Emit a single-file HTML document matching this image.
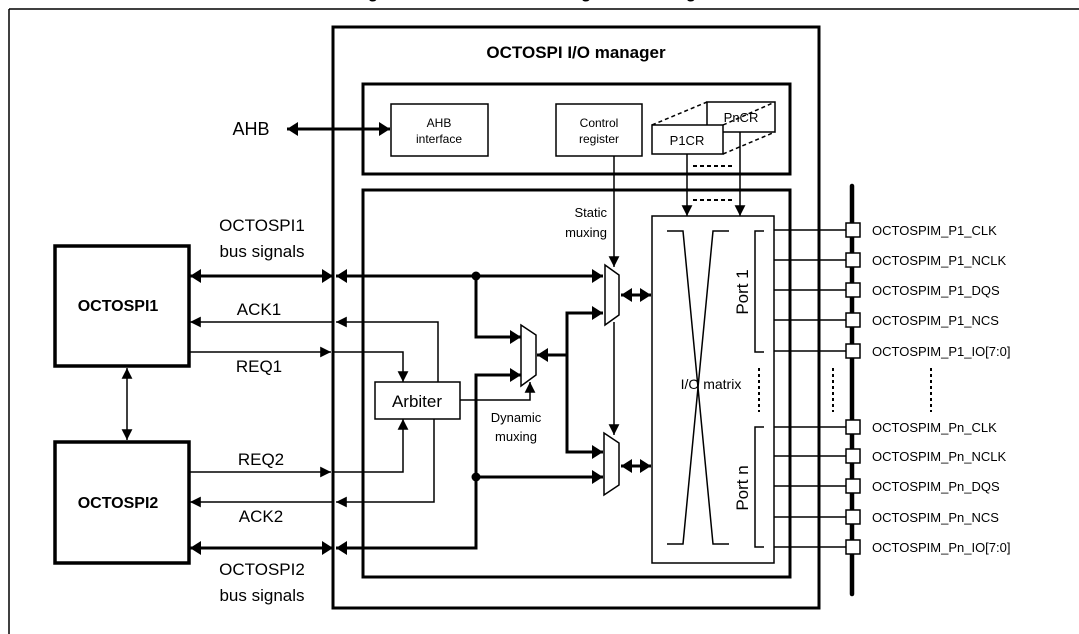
<!DOCTYPE html>
<html><head><meta charset="utf-8"><style>
html,body{margin:0;padding:0;background:#fff;}
svg{display:block;font-family:"Liberation Sans",Arial,sans-serif;}
</style></head><body>
<svg width="1079" height="634" viewBox="0 0 1079 634" xmlns="http://www.w3.org/2000/svg">
<defs>
<marker id="at" markerUnits="userSpaceOnUse" markerWidth="12" markerHeight="12" refX="9" refY="5" orient="auto-start-reverse" viewBox="0 0 10 10"><path d="M0,0.5 L9,5 L0,9.5 z" fill="#000"/></marker>
<marker id="aT" markerUnits="userSpaceOnUse" markerWidth="12" markerHeight="14" refX="11" refY="7" orient="auto-start-reverse" viewBox="0 0 12 14"><path d="M0,0 L11,7 L0,14 z" fill="#000"/></marker>
</defs>
<text x="540" y="-2" font-size="17" font-weight="bold" text-anchor="middle">Figure 1. OCTOSPI I/O manager block diagram</text>
<g stroke="#000" fill="none">
<line x1="9" y1="9" x2="1079" y2="9" stroke-width="1.5"/>
<line x1="9" y1="9" x2="9" y2="634" stroke-width="1.5"/>
<rect x="333" y="27" width="486" height="581" stroke-width="3"/>
<rect x="363" y="84" width="427" height="90" stroke-width="3"/>
<rect x="363" y="190" width="427" height="387" stroke-width="3"/>
<rect x="55" y="246" width="134" height="120" stroke-width="3.5"/>
<rect x="55" y="442" width="134" height="121" stroke-width="3.5"/>
<rect x="391" y="104" width="97" height="52" stroke-width="1.5"/>
<rect x="556" y="104" width="86" height="52" stroke-width="1.5"/>
<rect x="707" y="102" width="68" height="30" stroke-width="1.5"/>
<rect x="652" y="125" width="71" height="29" stroke-width="1.5" fill="#fff"/>
<line x1="652" y1="125" x2="707" y2="102" stroke-width="1.5" stroke-dasharray="4,3"/>
<line x1="723" y1="125" x2="775" y2="102" stroke-width="1.5" stroke-dasharray="4,3"/>
<line x1="723" y1="154" x2="775" y2="132" stroke-width="1.5" stroke-dasharray="4,3"/>
<line x1="693" y1="166" x2="735" y2="166" stroke-width="2" stroke-dasharray="4,3"/>
<line x1="693" y1="200" x2="735" y2="200" stroke-width="2" stroke-dasharray="4,3"/>
<line x1="687" y1="154" x2="687" y2="216" stroke-width="1.5" marker-end="url(#at)"/>
<line x1="740" y1="132" x2="740" y2="216" stroke-width="1.5" marker-end="url(#at)"/>
<rect x="652" y="216" width="122" height="347" stroke-width="1.5"/>
<polyline points="667,231 683,231 713,544 729,544" stroke-width="1.5"/>
<polyline points="729,231 713,231 683,544 667,544" stroke-width="1.5"/>
<polyline points="764,231 755,231 755,352 764,352" stroke-width="1.5"/>
<polyline points="764,427 755,427 755,547 764,547" stroke-width="1.5"/>
<line x1="759" y1="368" x2="759" y2="412" stroke-width="2" stroke-dasharray="3,3"/>
<line x1="833" y1="368" x2="833" y2="412" stroke-width="2" stroke-dasharray="3,3"/>
<line x1="931" y1="368" x2="931" y2="412" stroke-width="2" stroke-dasharray="3,3"/>
<line x1="852" y1="186" x2="852" y2="594" stroke-width="4.5" stroke-linecap="round"/>
<g stroke-width="1.5">
<line x1="774" y1="230" x2="846" y2="230"/><line x1="774" y1="260" x2="846" y2="260"/>
<line x1="774" y1="290" x2="846" y2="290"/><line x1="774" y1="320" x2="846" y2="320"/>
<line x1="774" y1="351" x2="846" y2="351"/><line x1="774" y1="427" x2="846" y2="427"/>
<line x1="774" y1="456" x2="846" y2="456"/><line x1="774" y1="486" x2="846" y2="486"/>
<line x1="774" y1="517" x2="846" y2="517"/><line x1="774" y1="547" x2="846" y2="547"/>
</g>
<g stroke-width="1.5" fill="#fff">
<rect x="846" y="223" width="14" height="14"/><rect x="846" y="253" width="14" height="14"/>
<rect x="846" y="283" width="14" height="14"/><rect x="846" y="313" width="14" height="14"/>
<rect x="846" y="344" width="14" height="14"/><rect x="846" y="420" width="14" height="14"/>
<rect x="846" y="449" width="14" height="14"/><rect x="846" y="479" width="14" height="14"/>
<rect x="846" y="510" width="14" height="14"/><rect x="846" y="540" width="14" height="14"/>
</g>
<line x1="287" y1="129" x2="390" y2="129" stroke-width="3" marker-start="url(#aT)" marker-end="url(#aT)"/>
<line x1="127" y1="368" x2="127" y2="440" stroke-width="1.5" marker-start="url(#at)" marker-end="url(#at)"/>
<line x1="190" y1="276" x2="333" y2="276" stroke-width="3" marker-start="url(#aT)" marker-end="url(#aT)"/>
<line x1="336" y1="276" x2="603" y2="276" stroke-width="3" marker-start="url(#aT)" marker-end="url(#aT)"/>
<polyline points="476,276 476,337 521,337" stroke-width="3" marker-end="url(#aT)"/>
<line x1="190" y1="548" x2="333" y2="548" stroke-width="3" marker-start="url(#aT)" marker-end="url(#aT)"/>
<polyline points="336,548 476,548 476,375 521,375" stroke-width="3" marker-start="url(#aT)" marker-end="url(#aT)"/>
<line x1="476" y1="477" x2="603" y2="477" stroke-width="3" marker-end="url(#aT)"/>
<line x1="190" y1="322" x2="333" y2="322" stroke-width="1.5" marker-start="url(#at)"/>
<polyline points="438,382 438,322 336,322" stroke-width="1.5" marker-end="url(#at)"/>
<line x1="189" y1="352" x2="331" y2="352" stroke-width="1.5" marker-end="url(#at)"/>
<polyline points="333,352 403,352 403,382" stroke-width="1.5" marker-end="url(#at)"/>
<line x1="189" y1="472" x2="331" y2="472" stroke-width="1.5" marker-end="url(#at)"/>
<polyline points="333,472 403,472 403,419" stroke-width="1.5" marker-end="url(#at)"/>
<line x1="190" y1="502" x2="333" y2="502" stroke-width="1.5" marker-start="url(#at)"/>
<polyline points="434,419 434,502 336,502" stroke-width="1.5" marker-end="url(#at)"/>
<rect x="375" y="382" width="85" height="37" stroke-width="1.5" fill="#fff"/>
<polyline points="460,400 530,400 530,382" stroke-width="1.5" marker-end="url(#at)"/>
<polygon points="521,325 536,335 536,375 521,386" stroke-width="1.5" fill="#fff"/>
<polygon points="605,265 619,275 619,315 605,325" stroke-width="1.5" fill="#fff"/>
<polygon points="604,433 619,443 619,485 604,495" stroke-width="1.5" fill="#fff"/>
<line x1="567" y1="355" x2="537" y2="355" stroke-width="3" marker-end="url(#aT)"/>
<polyline points="603,313 567,313 567,452 603,452" stroke-width="3" marker-start="url(#aT)" marker-end="url(#aT)"/>
<line x1="614" y1="156" x2="614" y2="267" stroke-width="1.5" marker-end="url(#at)"/>
<line x1="614" y1="322" x2="614" y2="435" stroke-width="1.5" marker-end="url(#at)"/>
<line x1="621" y1="295" x2="651" y2="295" stroke-width="3" marker-start="url(#aT)" marker-end="url(#aT)"/>
<line x1="621" y1="466" x2="651" y2="466" stroke-width="3" marker-start="url(#aT)" marker-end="url(#aT)"/>
</g>
<circle cx="476" cy="276" r="4.5"/><circle cx="476" cy="477" r="4.5"/>
<g font-size="17" text-anchor="middle">
<text x="576" y="58" font-weight="bold">OCTOSPI I/O manager</text>
<text x="251" y="135" font-size="18">AHB</text>
<text x="262" y="231">OCTOSPI1</text><text x="262" y="257">bus signals</text>
<text x="262" y="575">OCTOSPI2</text><text x="262" y="601">bus signals</text>
<text x="259" y="315">ACK1</text><text x="259" y="372">REQ1</text>
<text x="261" y="465">REQ2</text><text x="261" y="522">ACK2</text>
<text x="118" y="311" font-weight="bold" font-size="16">OCTOSPI1</text>
<text x="118" y="508" font-weight="bold" font-size="16">OCTOSPI2</text>
<text x="417" y="407">Arbiter</text>
<text x="711" y="389" font-size="14">I/O  matrix</text>
<text transform="translate(748,292) rotate(-90)" font-size="17">Port 1</text>
<text transform="translate(748,488) rotate(-90)" font-size="17">Port n</text>
</g>
<g font-size="12" text-anchor="middle">
<text x="439" y="127">AHB</text><text x="439" y="143">interface</text>
<text x="599" y="127">Control</text><text x="599" y="143">register</text>
<text x="687" y="145" font-size="13">P1CR</text><text x="741" y="122" font-size="13">PnCR</text>
</g>
<g font-size="13">
<text x="607" y="217" text-anchor="end">Static</text><text x="607" y="237" text-anchor="end">muxing</text>
<text x="516" y="422" text-anchor="middle">Dynamic</text><text x="516" y="441" text-anchor="middle">muxing</text>
</g>
<g font-size="13">
<text x="872" y="235">OCTOSPIM_P1_CLK</text><text x="872" y="265">OCTOSPIM_P1_NCLK</text>
<text x="872" y="295">OCTOSPIM_P1_DQS</text><text x="872" y="325">OCTOSPIM_P1_NCS</text>
<text x="872" y="356">OCTOSPIM_P1_IO[7:0]</text><text x="872" y="432">OCTOSPIM_Pn_CLK</text>
<text x="872" y="461">OCTOSPIM_Pn_NCLK</text><text x="872" y="491">OCTOSPIM_Pn_DQS</text>
<text x="872" y="522">OCTOSPIM_Pn_NCS</text><text x="872" y="552">OCTOSPIM_Pn_IO[7:0]</text>
</g>
</svg>
</body></html>
